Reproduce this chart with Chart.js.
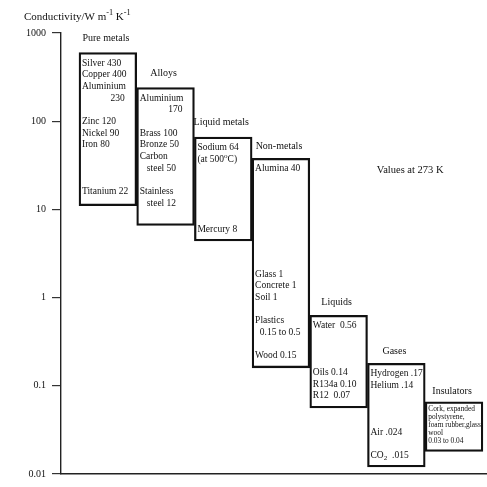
<!DOCTYPE html>
<html>
<head>
<meta charset="utf-8">
<script src="https://cdn.jsdelivr.net/npm/chart.js@4/dist/chart.umd.min.js"></script>
<style>
html,body{margin:0;padding:0;background:#fff;}
#wrap{width:487px;height:487px;}
</style>
</head>
<body>
<div id="wrap"><canvas id="c" width="487" height="487"></canvas></div>
<script>
// ---------- data ----------
const categories = ['Pure metals', 'Alloys', 'Liquid metals', 'Non-metals', 'Liquids', 'Gases', 'Insulators'];
const highValues = [600, 240, 66, 38, 0.63, 0.18, 0.066];
const lowValues  = [11, 6.6, 4.4, 0.16, 0.056, 0.012, 0.018];
const tickValues = [0.01, 0.1, 1, 10, 100, 1000];
const tickLabels = ['0.01', '0.1', '1', '10', '100', '1000'];
const axisTitle = 'Conductivity/W m^{-1} K^{-1}';
const noteText = 'Values at 273 K';
const pureMetalsText = ['Silver 430', 'Copper 400', 'Aluminium', '            230', '', 'Zinc 120', 'Nickel 90', 'Iron 80', '', '', '', 'Titanium 22'];
const alloysText = ['Aluminium', '            170', '', 'Brass 100', 'Bronze 50', 'Carbon', '   steel 50', '', 'Stainless', '   steel 12'];
const liquidMetalsText = ['Sodium 64', '(at 500^{o}C)', '', '', '', '', '', 'Mercury 8'];
const nonMetalsText = ['Alumina 40', '', '', '', '', '', '', '', '', 'Glass 1', 'Concrete 1', 'Soil 1', '', 'Plastics', '  0.15 to 0.5', '', 'Wood 0.15'];
const liquidsText = ['Water  0.56', '', '', '', 'Oils 0.14', 'R134a 0.10', 'R12  0.07'];
const gasesText = ['Hydrogen .17', 'Helium .14', '', '', '', 'Air .024', '', 'CO_{2}  .015'];
const insulatorsText = ['Cork, expanded', 'polystyrene,', 'foam rubber,glass', 'wool', '0.03 to 0.04'];
const boxTexts = [pureMetalsText, alloysText, liquidMetalsText, nonMetalsText, liquidsText, gasesText, insulatorsText];

// ---------- layout / style ----------
const FONT = '"Liberation Serif", "Times New Roman", serif';
const INK = '#111';
const boxFontSize = [9.5, 9.5, 9.5, 9.5, 9.5, 9.5, 7.4];
const boxLineHeight = [11.7, 11.7, 11.7, 11.7, 11.7, 11.7, 8];
const boxFirstOffset = [10.5, 10.5, 10.5, 10.5, 10.5, 10.5, 7];
const headerGap = [14, 14, 14.5, 12, 13, 12, 10];
const notePos = {x: 4.66, y: 28};

function drawRich(ctx, str, x, y, size, align) {
  const parts = [];
  const re = /(\^|_)\{([^}]*)\}/g;
  let last = 0, m;
  while ((m = re.exec(str))) {
    if (m.index > last) parts.push({t: str.slice(last, m.index), k: ''});
    parts.push({t: m[2], k: m[1]});
    last = re.lastIndex;
  }
  if (last < str.length) parts.push({t: str.slice(last), k: ''});
  let total = 0;
  parts.forEach(p => {
    p.s = p.k ? size * 0.75 : size;
    ctx.font = p.s + 'px ' + FONT;
    p.w = ctx.measureText(p.t).width;
    total += p.w;
  });
  let cx = align === 'center' ? x - total / 2 : x;
  ctx.textAlign = 'left';
  ctx.textBaseline = 'middle';
  parts.forEach(p => {
    ctx.font = p.s + 'px ' + FONT;
    const dy = p.k === '^' ? -size * 0.38 : (p.k === '_' ? size * 0.3 : 0);
    ctx.fillText(p.t, cx, y + dy);
    cx += p.w;
  });
}

const textPlugin = {
  id: 'boxText',
  afterDraw(chart) {
    const ctx = chart.ctx;
    const meta = chart.getDatasetMeta(0);
    ctx.save();
    ctx.fillStyle = INK;
    meta.data.forEach((el, i) => {
      const p = el.getProps(['x', 'y', 'base', 'width'], true);
      const left = p.x - p.width / 2;
      const top = Math.min(p.y, p.base);
      drawRich(ctx, categories[i], p.x - 2, top - headerGap[i], 10, 'center');
      const lines = boxTexts[i];
      lines.forEach((ln, k) => {
        if (!ln) return;
        drawRich(ctx, ln, left + 3, top + boxFirstOffset[i] + k * boxLineHeight[i], boxFontSize[i], 'left');
      });
    });
    const xs = chart.scales.x, ys = chart.scales.y;
    drawRich(ctx, noteText, xs.getPixelForValue(notePos.x), ys.getPixelForValue(notePos.y), 10.5, 'left');
    drawRich(ctx, axisTitle, 24, chart.chartArea.top - 15.5, 11, 'left');
    ctx.restore();
  }
};

new Chart(document.getElementById('c'), {
  type: 'bar',
  data: {
    datasets: [{
      data: categories.map((c, i) => ({x: i, y: [lowValues[i], highValues[i]]})),
      backgroundColor: 'rgba(255,255,255,0)',
      borderColor: INK,
      borderWidth: 1.6,
      borderSkipped: false,
      barPercentage: 1,
      categoryPercentage: 1
    }]
  },
  options: {
    responsive: false,
    devicePixelRatio: 1,
    animation: false,
    layout: {padding: {top: 33, bottom: 13, left: 0, right: 0}},
    plugins: {legend: {display: false}, tooltip: {enabled: false}, title: {display: false}},
    scales: {
      x: {
        type: 'linear',
        offset: false,
        min: -0.812,
        max: 6.571,
        afterBuildTicks: s => { s.ticks = categories.map((_, i) => ({value: i})); },
        ticks: {display: false},
        grid: {display: true, offset: false, drawOnChartArea: false, drawTicks: false},
        border: {display: true, color: '#222', width: 1.4}
      },
      y: {
        type: 'logarithmic',
        min: 0.01,
        max: 1000,
        afterBuildTicks: s => { s.ticks = tickValues.map(v => ({value: v})); },
        afterFit: s => { s.width = 61; },
        ticks: {
          autoSkip: false,
          callback: (v, i) => tickLabels[i],
          font: {family: FONT, size: 10},
          color: INK,
          padding: 6
        },
        grid: {display: true, drawOnChartArea: false, drawTicks: true, tickLength: 9, color: '#333', lineWidth: 1.2},
        border: {display: true, color: '#222', width: 1.4}
      }
    }
  },
  plugins: [textPlugin]
});
</script>
</body>
</html>
